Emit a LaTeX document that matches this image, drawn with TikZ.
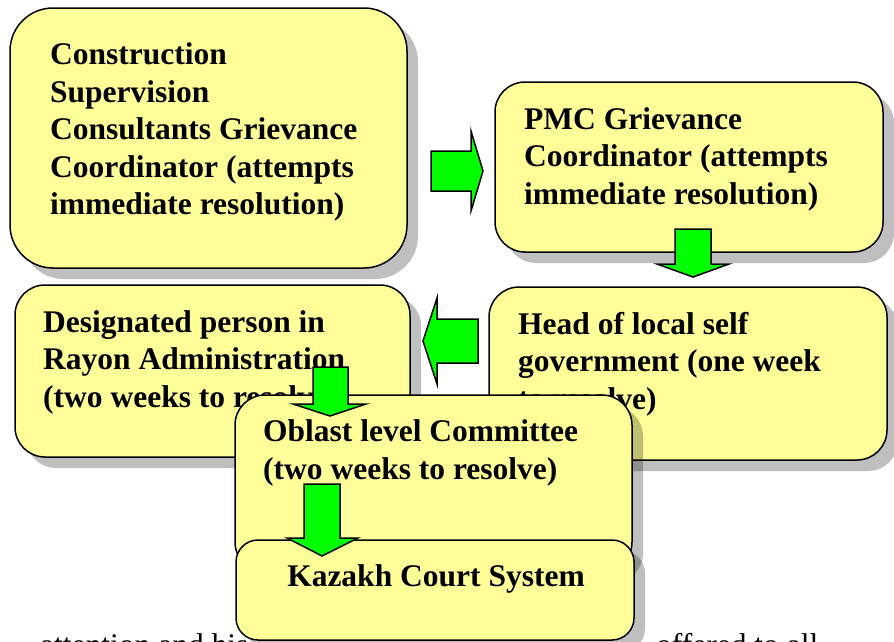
\documentclass[tikz,border=0pt]{standalone}
\usepackage{fontspec}
\setmainfont{Liberation Serif}
\usetikzlibrary{shadows}
\definecolor{boxyellow}{HTML}{FFFF99}
\definecolor{arrowgreen}{HTML}{00FF00}
\begin{document}
\begin{tikzpicture}[x=1pt,y=-1pt,
  boxnode/.style={draw=black, line width=1.5pt, fill=boxyellow, rectangle,
    rounded corners=#1, inner sep=0pt,
    drop shadow={shadow xshift=11pt, shadow yshift=-11pt, fill=black, opacity=0.25}},
  boxtext/.style={inner sep=0pt, align=left, font=\bfseries\fontsize{31.5}{37.5}\selectfont},
  bodytext/.style={inner sep=0pt, anchor=base west, font=\fontsize{31.5}{37.5}\selectfont},
  blockarrow/.style={draw=black, line width=1.5pt, fill=arrowgreen, line join=miter}]
\useasboundingbox (0,0) rectangle (894,641);
\clip (0,0) rectangle (894,641);
\fill[white] (0,0) rectangle (894,641);

% partially hidden running text at the bottom
\node[bodytext] (runleft) at (40,655) {attention and his};
\node[bodytext] (runright) at (656,655) {offered to all};

% boxes
\node[boxnode=43pt, minimum width=397pt, minimum height=260pt] (b1) at (208.5,138) {};
\node[boxtext, anchor=west] (t1) at (50,132) {Construction\\Supervision\\Consultants Grievance\\Coordinator (attempts\\immediate resolution)};

\node[boxnode=30pt, minimum width=388pt, minimum height=170pt] (b2) at (689,167) {};
\node[boxtext, anchor=west] (t2) at (524,159) {PMC Grievance\\Coordinator (attempts\\immediate resolution)};

\node[boxnode=30pt, minimum width=398pt, minimum height=173pt] (b3) at (688,373.5) {};
\node[boxtext, anchor=west] (t3) at (518,364) {Head of local self\\government (one week\\to resolve)};

\node[boxnode=30pt, minimum width=395pt, minimum height=172pt] (b4) at (212.5,371) {};
\node[boxtext, anchor=west] (t4) at (43,362) {Designated person in\\Rayon Administration\\(two weeks to resolve)};

\node[boxnode=30pt, minimum width=397pt, minimum height=177pt] (b5) at (433.5,483.5) {};
\node[boxtext, anchor=west] (t5) at (263,453) {Oblast level Committee\\(two weeks to resolve)};

\node[boxnode=22pt, minimum width=398pt, minimum height=100pt] (b6) at (435,590) {};
\node[boxtext] (t6) at (436,579) {Kazakh Court System};

% block arrows
\draw[blockarrow] (431,151) -- (471,151) -- (471,131) -- (483,171) -- (471,211) -- (471,191) -- (431,191) -- cycle;
\draw[blockarrow] (675,229) -- (711,229) -- (711,264) -- (729,264) -- (693,277) -- (657,264) -- (675,264) -- cycle;
\draw[blockarrow] (478,319) -- (437,319) -- (437,298) -- (423,341) -- (437,384) -- (437,363) -- (478,363) -- cycle;
\draw[blockarrow] (313,367) -- (348,367) -- (348,404) -- (366,404) -- (330,416) -- (293,404) -- (313,404) -- cycle;
\draw[blockarrow] (304,484) -- (340,484) -- (340,538) -- (358,538) -- (322,556) -- (287,538) -- (304,538) -- cycle;
\end{tikzpicture}
\end{document}
